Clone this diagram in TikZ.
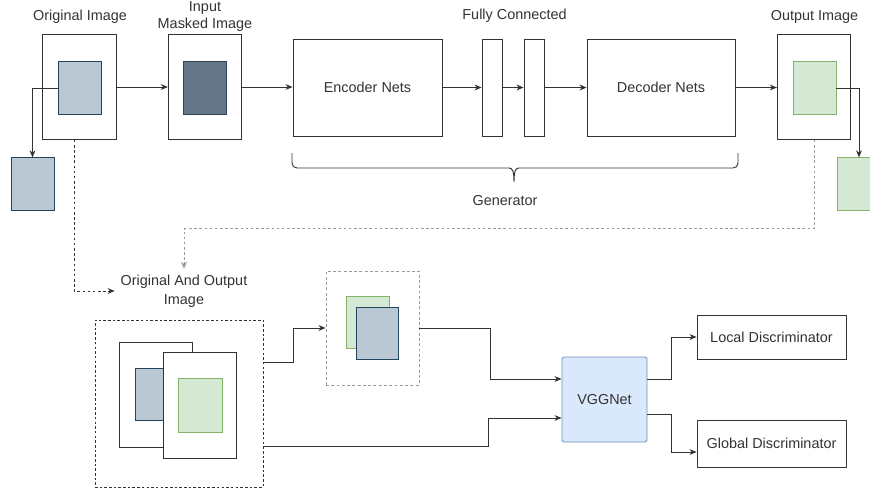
\documentclass[tikz,border=0pt]{standalone}
\usepackage{fontspec}
\setmainfont{Liberation Sans}
\usepackage{tikz}
\usetikzlibrary{arrows.meta,calc}
\definecolor{ink}{HTML}{333333}
\definecolor{guide}{HTML}{9A9A9A}
\definecolor{blueimg}{HTML}{BAC8D3}
\definecolor{bluerim}{HTML}{23445D}
\definecolor{maskimg}{HTML}{647687}
\definecolor{maskrim}{HTML}{314354}
\definecolor{greenimg}{HTML}{D5E8D4}
\definecolor{greenrim}{HTML}{82B366}
\definecolor{vggfill}{HTML}{DAE8FC}
\definecolor{vggrim}{HTML}{6C8EBF}
\tikzset{
  txt/.style={text=ink, font=\fontsize{12.3}{14}\selectfont},
  lab/.style={txt, align=center},
  imgframe/.style={draw=ink, fill=white, line width=0.8pt, inner sep=0pt,
    minimum width=2.2cm, minimum height=3.14cm},
  patch/.style={line width=0.8pt, inner sep=0pt, minimum width=1.29cm, minimum height=1.57cm},
  bluepatch/.style={patch, fill=blueimg, draw=bluerim},
  maskpatch/.style={patch, fill=maskimg, draw=maskrim},
  greenpatch/.style={patch, fill=greenimg, draw=greenrim},
  net/.style={txt, draw=ink, fill=white, line width=0.8pt, inner sep=0pt, minimum height=2.91cm},
  fc/.style={net, minimum width=0.6cm},
  disc/.style={txt, draw=ink, line width=0.8pt, inner sep=0pt, minimum width=4.47cm},
  vggbox/.style={txt, draw=vggrim, fill=vggfill, line width=0.8pt, rounded corners=1.5pt,
    minimum width=2.55cm, minimum height=2.55cm},
  group/.style={draw=ink, line width=0.8pt, dash pattern=on 2.2pt off 1.8pt},
  cropgroup/.style={draw=guide, line width=0.8pt, dash pattern=on 2.5pt off 2pt},
  arr/.style={draw=ink, line width=0.8pt, -{Stealth[length=6pt,width=5pt]}},
  dotarr/.style={arr, dash pattern=on 2.2pt off 2.2pt},
  greyarr/.style={arr, draw=guide, dash pattern=on 2.2pt off 2.2pt}
}

\begin{document}
\begin{tikzpicture}[x=0.03cm, y=-0.03cm]
  \useasboundingbox (0,0) rectangle (870,493);

  % generator row
  \node[imgframe] (origbox) at (79.5,87) {};
  \node[bluepatch] (origpatch) at (80,88) {};
  \node[bluepatch] (cropO) at (32.5,184) {};
  \node[imgframe] (maskbox) at (205,87) {};
  \node[maskpatch] at (204.5,88) {};
  \node[net, minimum width=4.47cm] (enc) at (367.5,87.5) {Encoder Nets};
  \node[fc] (fcA) at (492,87.5) {};
  \node[fc] (fcB) at (534,87.5) {};
  \node[net, minimum width=4.44cm] (dec) at (661,87.5) {Decoder Nets};
  \node[imgframe] (outbox) at (814,87) {};
  \node[greenpatch] (outpatch) at (814.5,88) {};
  \node[greenpatch, minimum width=1.32cm] (cropG) at (859,184) {};

  \node[lab] (origlab) at (80,17) {Original Image};
  \node[lab, font=\fontsize{12.3}{15}\selectfont] (masklab) at (205,16.5) {Input\\Masked Image};
  \node[lab] (fclab) at (514.5,16) {Fully Connected};
  \node[lab] (outlab) at (814.5,17) {Output Image};
  \node[lab] (genlab) at (505,201) {Generator};

  \draw[arr] (origbox) -- (maskbox);
  \draw[arr] (maskbox.east) -- (maskbox.east -| enc.west);
  \draw[arr] (enc) -- (fcA);
  \draw[arr] (fcA) -- (fcB);
  \draw[arr] (fcB) -- (dec);
  \draw[arr] (dec.east) -- (dec.east -| outbox.west);
  \draw[arr] (origpatch.west) -| (cropO.north);
  \draw[arr] (outpatch.east) -| (cropG.north);

  % brace under the generator
  \draw[ink, line width=0.8pt] (292,153) -- (292,163) .. controls (292,166) and (294,168) .. (297,168)
    -- (509,168) .. controls (512,168) and (514,170) .. (514,182)
    .. controls (514,170) and (516,168) .. (519,168) -- (733,168)
    .. controls (736,168) and (738,166) .. (738,163) -- (738,153);

  % discriminator row
  \node[lab, font=\fontsize{12.3}{16}\selectfont, inner sep=5pt] (mixlab) at (184,291)
    {Original And Output\\Image};
  \node[group, minimum width=5.04cm, minimum height=5.01cm] (pairbox) at (179,403.5) {};
  \node[imgframe, minimum height=3.15cm] (backframe) at (156,394.5) {};
  \node[bluepatch] at (156.5,394.5) {};
  \node[imgframe, minimum height=3.18cm] (frontframe) at (200,405) {};
  \node[greenpatch, minimum width=1.32cm, minimum height=1.62cm] at (200,405) {};

  \node[cropgroup, minimum width=2.79cm, minimum height=3.42cm] (cropbox) at (372.5,328) {};
  \node[greenpatch] at (367.5,322.5) {};
  \node[bluepatch, minimum width=1.26cm, minimum height=1.56cm] at (377,333) {};

  \node[vggbox] (vgg) at (604.5,399.5) {VGGNet};
  \node[disc, minimum height=1.32cm] (localD) at (771.5,337) {Local Discriminator};
  \node[disc, minimum height=1.41cm] (globalD) at (771.5,443.5) {Global Discriminator};

  \draw[dotarr] ([xshift=-0.165cm]origbox.south) |- (mixlab.west);
  \draw[greyarr] (outbox.south) -- ++(0,89) -| (mixlab.north);

  \draw[arr] ([yshift=1.245cm]pairbox.east) -- ++(30,0) |- (cropbox.west);
  \draw[arr] (cropbox.east) -- ++(71,0) |- ([yshift=0.615cm]vgg.west);
  \draw[arr] ([yshift=-1.275cm]pairbox.east) -- ++(225,0) |- ([yshift=-0.555cm]vgg.west);
  \draw[arr] ([yshift=0.615cm]vgg.east) -- ++(24,0) |- (localD.west);
  \draw[arr] ([yshift=-0.435cm]vgg.east) -- ++(24,0) |- ([yshift=-0.255cm]globalD.west);
\end{tikzpicture}
\end{document}
